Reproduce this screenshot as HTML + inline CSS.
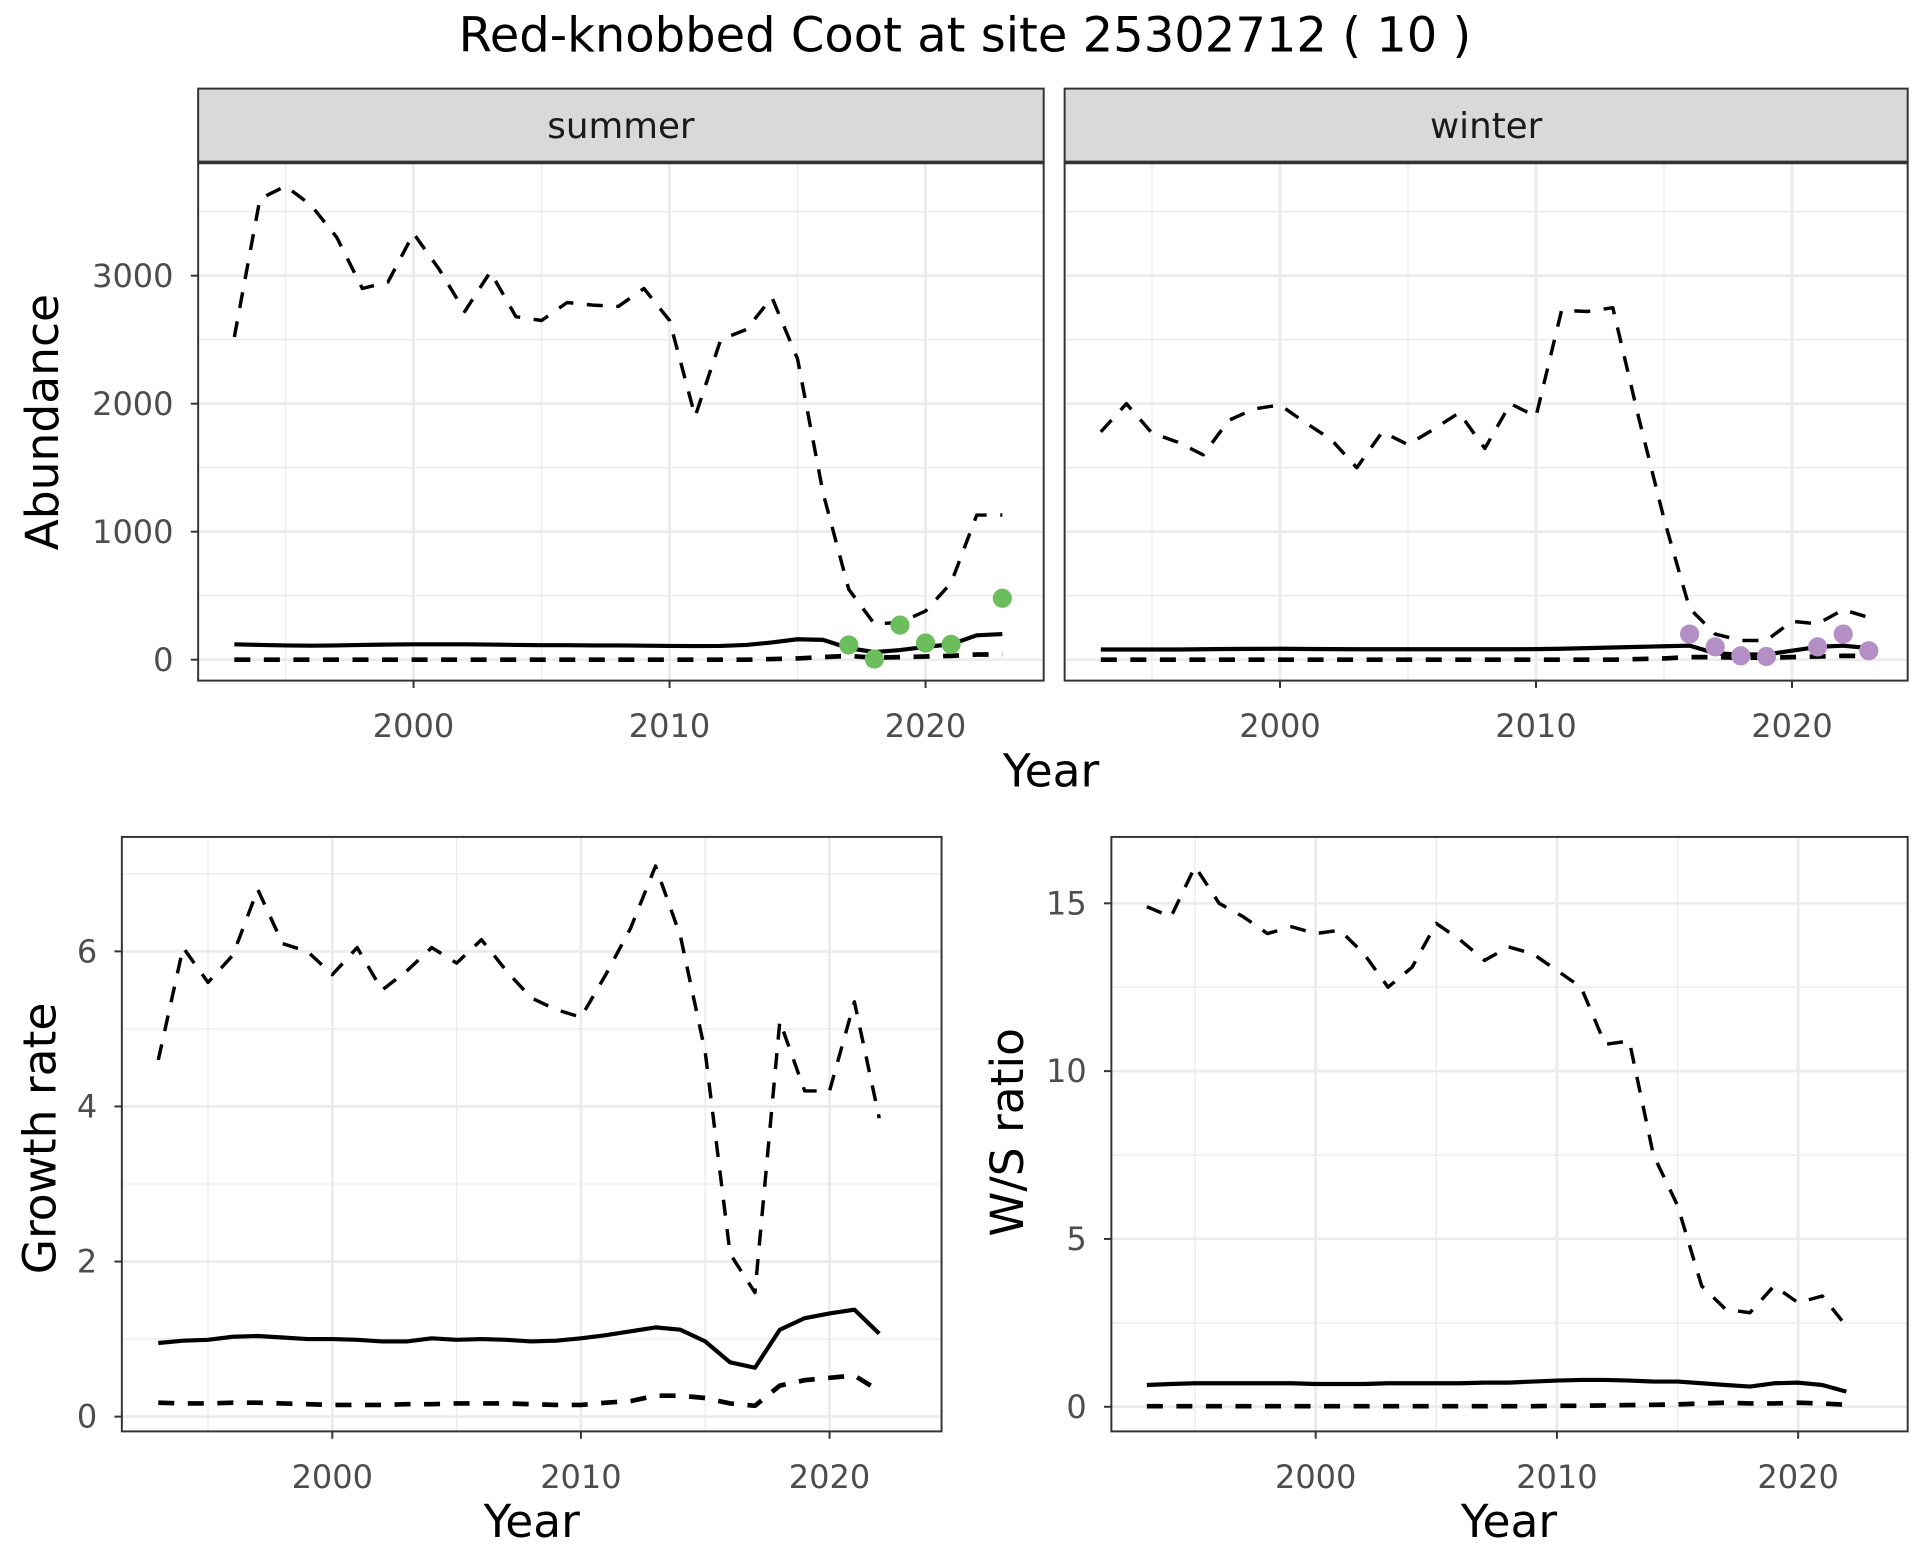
<!DOCTYPE html>
<html><head><meta charset="utf-8"><style>
html,body{margin:0;padding:0;background:#fff}
svg{display:block}
text{font-family:"DejaVu Sans","Liberation Sans",sans-serif}
</style></head><body>
<svg id="chart" width="1920" height="1560" viewBox="0 0 1560 1267.5" xmlns="http://www.w3.org/2000/svg">
<rect width="1560" height="1267.5" fill="#fff"/>
<text x="784" y="42" font-size="39" text-anchor="middle" fill="#000">Red-knobbed Coot at site 25302712 ( 10 )</text>
<g id="plots"></g>
</svg>
<script>
const summerYears=[1993,1994,1995,1996,1997,1998,1999,2000,2001,2002,2003,2004,2005,2006,2007,2008,2009,2010,2011,2012,2013,2014,2015,2016,2017,2018,2019,2020,2021,2022,2023];
const summerUpper=[2520,3600,3700,3550,3300,2900,2950,3330,3050,2720,3030,2680,2650,2790,2770,2760,2900,2650,1900,2500,2580,2830,2350,1300,550,280,290,380,600,1130,1130];
const summerMid=[120,115,112,110,112,115,118,120,120,120,118,115,113,113,112,112,110,108,107,108,115,135,160,155,90,60,75,100,120,190,200];
const summerLow=[0,0,0,0,0,0,0,0,0,0,0,0,0,0,0,0,0,0,0,0,0,5,10,20,30,15,20,25,30,40,40];
const summerObsYears=[2017,2018,2019,2020,2021,2023];
const summerObs=[115,5,270,130,120,480];
const winterUpper=[1780,2000,1770,1700,1600,1870,1960,1990,1850,1720,1500,1780,1680,1800,1930,1650,2000,1900,2730,2720,2750,1900,1100,400,200,150,150,300,280,390,330];
const winterMid=[80,80,80,80,82,84,85,86,84,83,82,82,82,82,82,82,82,83,86,90,95,100,105,110,50,40,40,70,100,110,90];
const winterLow=[0,0,0,0,0,0,0,0,0,0,0,0,0,0,0,0,0,0,0,0,0,5,10,20,20,15,15,20,25,30,30];
const winterObsYears=[2016,2017,2018,2019,2021,2022,2023];
const winterObs=[200,100,30,25,100,200,70];
const gYears=[1993,1994,1995,1996,1997,1998,1999,2000,2001,2002,2003,2004,2005,2006,2007,2008,2009,2010,2011,2012,2013,2014,2015,2016,2017,2018,2019,2020,2021,2022];
const growthUpper=[4.6,6.05,5.6,5.95,6.8,6.1,6.0,5.7,6.05,5.5,5.75,6.05,5.85,6.15,5.75,5.4,5.25,5.15,5.7,6.3,7.1,6.2,4.7,2.1,1.6,5.1,4.2,4.2,5.35,3.85];
const growthMid=[0.95,0.98,0.99,1.03,1.04,1.02,1.0,1.0,0.99,0.97,0.97,1.01,0.99,1.0,0.99,0.97,0.98,1.01,1.05,1.10,1.15,1.12,0.97,0.70,0.63,1.12,1.27,1.33,1.38,1.07];
const growthLow=[0.18,0.17,0.17,0.18,0.18,0.17,0.16,0.15,0.15,0.15,0.16,0.16,0.17,0.17,0.17,0.16,0.15,0.15,0.18,0.20,0.27,0.27,0.24,0.17,0.14,0.40,0.47,0.50,0.53,0.33];
const wsUpper=[14.9,14.6,16.1,15.0,14.6,14.1,14.3,14.1,14.2,13.5,12.5,13.1,14.4,13.9,13.3,13.7,13.5,13.0,12.5,10.8,10.9,7.5,6.0,3.6,2.9,2.8,3.6,3.1,3.3,2.4];
const wsMid=[0.65,0.68,0.7,0.7,0.7,0.7,0.7,0.68,0.68,0.68,0.7,0.7,0.7,0.7,0.72,0.72,0.75,0.78,0.8,0.8,0.78,0.75,0.75,0.7,0.65,0.6,0.7,0.72,0.65,0.45];
const wsLow=[0.02,0.02,0.02,0.02,0.02,0.02,0.02,0.02,0.02,0.02,0.02,0.02,0.02,0.02,0.02,0.02,0.02,0.03,0.03,0.04,0.05,0.06,0.07,0.1,0.12,0.1,0.1,0.12,0.1,0.06];
const abundTicks=[0,1000,2000,3000];
const growthTicks=[0,2,4,6];
const wsTicks=[0,5,10,15];
const yearTicks=[2000,2010,2020];

const NS="http://www.w3.org/2000/svg";
const root=document.getElementById('plots');
function el(tag,attrs,parent){const e=document.createElementNS(NS,tag);for(const k in attrs)e.setAttribute(k,attrs[k]);(parent||root).appendChild(e);return e;}

function panel(name,box,xd,yd,yTicks,yMinor,showY,showX){
  const g=el('g',{});
  
  
  const sx=v=>box.x0+(v-xd[0])/(xd[1]-xd[0])*(box.x1-box.x0);
  const sy=v=>box.y1-(v-yd[0])/(yd[1]-yd[0])*(box.y1-box.y0);
  el('rect',{x:box.x0,y:box.y0,width:box.x1-box.x0,height:box.y1-box.y0,fill:'#fff'},g);
  yMinor.forEach(v=>el('line',{x1:box.x0,x2:box.x1,y1:sy(v),y2:sy(v),stroke:'#EBEBEB','stroke-width':1.1},g));
  [1995,2005,2015].forEach(v=>el('line',{x1:sx(v),x2:sx(v),y1:box.y0,y2:box.y1,stroke:'#EBEBEB','stroke-width':1.1},g));
  yTicks.forEach(v=>el('line',{x1:box.x0,x2:box.x1,y1:sy(v),y2:sy(v),stroke:'#EBEBEB','stroke-width':2.2},g));
  yearTicks.forEach(v=>el('line',{x1:sx(v),x2:sx(v),y1:box.y0,y2:box.y1,stroke:'#EBEBEB','stroke-width':2.2},g));
  el('rect',{x:box.x0,y:box.y0,width:box.x1-box.x0,height:box.y1-box.y0,fill:'none',stroke:'#333','stroke-width':1.6},g);
  if(showY){yTicks.forEach(v=>{
    el('line',{x1:box.x0-6,x2:box.x0,y1:sy(v),y2:sy(v),stroke:'#333','stroke-width':1.6},g);
    const t=el('text',{x:box.x0-20,y:sy(v)+9,'font-size':26,'text-anchor':'end',fill:'#4D4D4D'},g);
    
    
    t.textContent=String(v);
  });}
  if(showX){yearTicks.forEach(v=>{
    el('line',{x1:sx(v),x2:sx(v),y1:box.y1,y2:box.y1+6,stroke:'#333','stroke-width':1.6},g);
    const t=el('text',{x:sx(v),y:box.y1+46,'font-size':26,'text-anchor':'middle',fill:'#4D4D4D'},g);
    
    
    t.textContent=String(v);
  });}
  return {g,sx,sy};
}
function line(p,xs,ys,dash,w,nm){
  const d=xs.map((x,i)=>(i?'L':'M')+p.sx(x).toFixed(1)+','+p.sy(ys[i]).toFixed(1)).join('');
  const a={d:d,fill:'none',stroke:'#000','stroke-width':w,'stroke-linejoin':'round'};
  if(dash)a['stroke-dasharray']=dash;
  const e=el('path',a,p.g);
  
  
}
function pts(p,xs,ys,col,nm){xs.forEach((x,i)=>{
  const c=el('circle',{cx:p.sx(x),cy:p.sy(ys[i]),r:7.8,fill:col},p.g);
  
  
});}
function strip(x0,x1,label){
  const r=el('rect',{x:x0,y:72,width:x1-x0,height:60,fill:'#D9D9D9',stroke:'#333','stroke-width':1.6});
  
  
  el('line',{x1:x0,x2:x1,y1:132,y2:132,stroke:'#333','stroke-width':3});
  const t=el('text',{x:(x0+x1)/2,y:112,'font-size':29,'text-anchor':'middle',fill:'#1A1A1A'});
  
  
  t.textContent=label;
}
function title(x,y,txt,rot,nm){
  const t=el('text',{x:x,y:y,'font-size':37,'text-anchor':'middle',fill:'#000'});
  if(rot)t.setAttribute('transform','rotate(-90 '+x+' '+y+')');
  
  
  t.textContent=txt;
}
const D='13,11';
const xA=[2000-(336-161)/20.8,2000+(848-336)/20.8];
const yA=[-(553-536)/0.104,(536-132)/0.104];
const ps=panel('summer',{x0:161,x1:848,y0:132,y1:553},xA,yA,abundTicks,[500,1500,2500,3500],true,true);
line(ps,summerYears,summerUpper,D,2.8,'summer-upper-ci-line');
line(ps,summerYears,summerMid,null,3.4,'summer-estimate-line');
line(ps,summerYears,summerLow,D,3.8,'summer-lower-ci-line');
pts(ps,summerObsYears,summerObs,'#6CBD5C','summer-observed-point');
const xB=[2000-(1040-865)/20.8,2000+(1550-1040)/20.8];
const pw=panel('winter',{x0:865,x1:1550,y0:132,y1:553},xB,yA,abundTicks,[500,1500,2500,3500],false,true);
line(pw,summerYears,winterUpper,D,2.8,'winter-upper-ci-line');
line(pw,summerYears,winterMid,null,3.4,'winter-estimate-line');
line(pw,summerYears,winterLow,D,3.8,'winter-lower-ci-line');
pts(pw,winterObsYears,winterObs,'#B48FC6','winter-observed-point');
strip(161,848,'summer');strip(865,1550,'winter');
title(854,639,'Year',false,'top-x-axis-title');
title(47,343,'Abundance',true,'abundance-y-axis-title');
const xC=[2000-(270-99)/20.2,2000+(765-270)/20.2];
const yC=[-(1163-1151)/63,(1151-680)/63];
const pg=panel('growth',{x0:99,x1:765,y0:680,y1:1163},xC,yC,growthTicks,[1,3,5,7],true,true);
line(pg,gYears,growthUpper,D,2.8,'growth-upper-ci-line');
line(pg,gYears,growthMid,null,3.4,'growth-estimate-line');
line(pg,gYears,growthLow,D,3.8,'growth-lower-ci-line');
title(432,1249,'Year',false,'growth-x-axis-title');
title(45,925,'Growth rate',true,'growth-y-axis-title');
const xD=[2000-(1069-903)/19.6,2000+(1550-1069)/19.6];
const yD=[-(1163-1143)/27.27,(1143-680)/27.27];
const pr=panel('ws',{x0:903,x1:1550,y0:680,y1:1163},xD,yD,wsTicks,[2.5,7.5,12.5],true,true);
line(pr,gYears,wsUpper,D,2.8,'ws-upper-ci-line');
line(pr,gYears,wsMid,null,3.4,'ws-estimate-line');
line(pr,gYears,wsLow,D,3.8,'ws-lower-ci-line');
title(1226,1249,'Year',false,'ws-x-axis-title');
title(831,920,'W/S ratio',true,'ws-y-axis-title');
</script>
</body></html>
